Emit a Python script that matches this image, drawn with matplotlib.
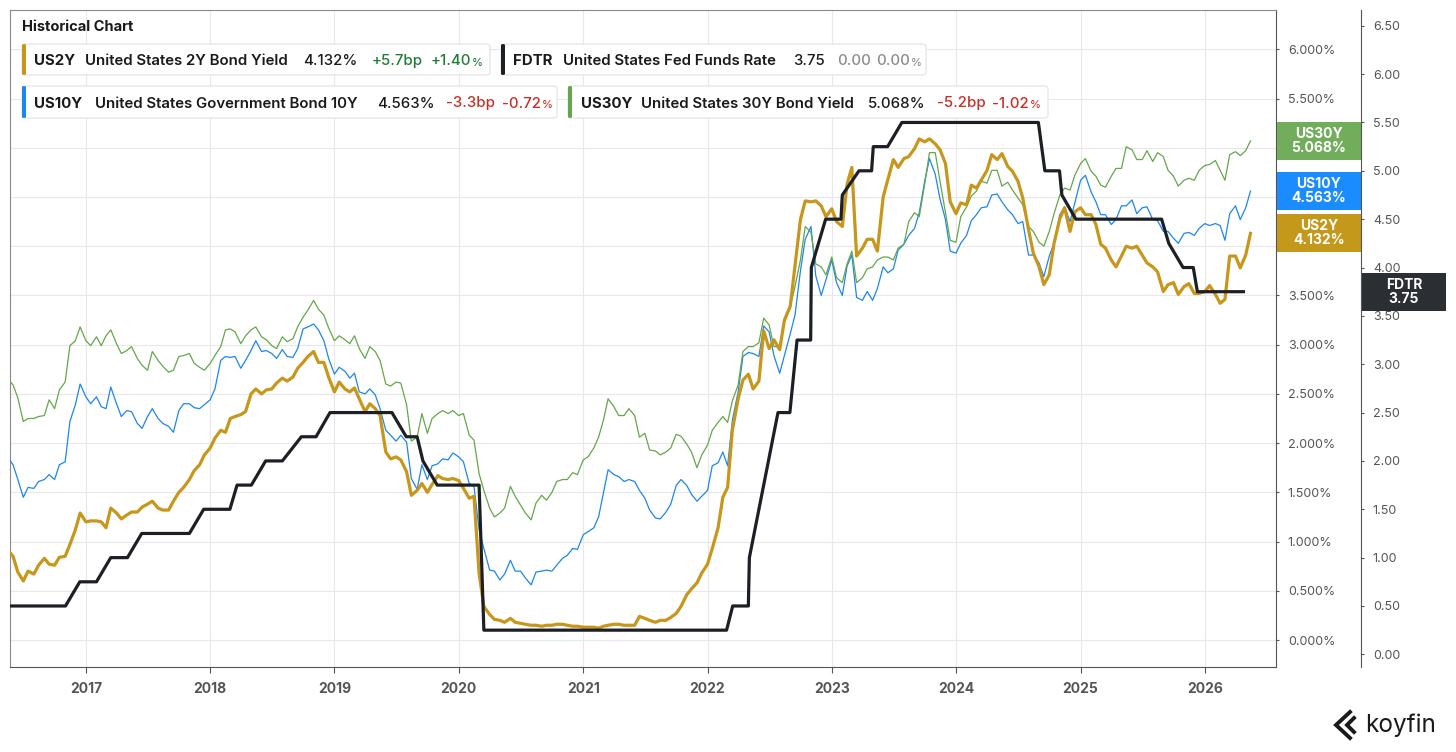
import matplotlib
matplotlib.use('Agg')
import numpy as np
import pandas as pd
import matplotlib.pyplot as plt
import matplotlib.transforms as mtransforms
from matplotlib.patches import FancyBboxPatch, Rectangle
from matplotlib.lines import Line2D
from matplotlib.text import Annotation
from matplotlib.ticker import FuncFormatter

plt.rcParams['font.family'] = ['Inter', 'DejaVu Sans']

W, H = 1456, 752

# semi-monthly observations (1st and 15th), mid-May 2016 .. mid-May 2026
dates = pd.date_range('2016-05-15', '2026-05-15', freq='SMS')

us30y = [
    2.66, 2.59, 2.46, 2.22, 2.25, 2.25, 2.27, 2.28, 2.44, 2.35, 2.54, 2.62, 2.99, 3.04, 3.18,
    3.04, 2.99, 3.08, 2.99, 3.09, 3.15, 3.01, 2.91, 2.94, 2.98, 2.86, 2.79,
    2.74, 2.93, 2.84, 2.78, 2.72, 2.74, 2.88, 2.89, 2.91, 2.81, 2.77, 2.74,
    2.81, 2.89, 2.98, 3.15, 3.16, 3.13, 3.01, 3.09, 3.15, 3.18, 3.08, 3.05,
    2.99, 2.96, 3.08, 3.03, 3.06, 3.18, 3.28, 3.35, 3.45, 3.36, 3.30, 3.17,
    3.04, 3.09, 3.05, 3.01, 3.09, 2.96, 2.86, 2.98, 2.93, 2.84, 2.60, 2.58,
    2.62, 2.61, 2.39, 2.02, 2.06, 2.30, 2.10, 2.25, 2.30, 2.33, 2.30, 2.33,
    2.28, 2.30, 2.08, 2.03, 1.69, 1.52, 1.34, 1.25, 1.29, 1.34, 1.56, 1.46,
    1.37, 1.29, 1.22, 1.39, 1.47, 1.42, 1.50, 1.61, 1.63, 1.63, 1.70, 1.68,
    1.83, 1.86, 1.95, 2.06, 2.23, 2.45, 2.37, 2.28, 2.28, 2.35, 2.28, 2.06,
    2.10, 1.93, 1.92, 1.88, 1.91, 1.95, 2.09, 2.07, 1.99, 1.91, 1.75, 1.88,
    1.98, 2.13, 2.21, 2.27, 2.21, 2.43, 2.59, 2.93, 2.98, 2.98, 3.02, 3.27,
    3.20, 2.98, 2.98, 3.23, 3.38, 3.59, 3.86, 4.20, 4.14, 3.82, 3.79, 3.71,
    3.89, 3.68, 3.63, 3.82, 3.95, 3.63, 3.68, 3.77, 3.79, 3.86, 3.89, 3.89,
    3.86, 3.98, 4.02, 4.25, 4.34, 4.30, 4.63, 4.95, 4.95, 4.66, 4.34, 4.06,
    4.04, 4.30, 4.40, 4.51, 4.56, 4.66, 4.64, 4.77, 4.77, 4.61, 4.65, 4.57,
    4.49, 4.42, 4.20, 4.15, 4.04, 4.00, 4.15, 4.33, 4.52, 4.59, 4.57, 4.72,
    4.84, 4.89, 4.76, 4.71, 4.62, 4.60, 4.71, 4.79, 4.79, 5.01, 4.98, 4.88,
    4.88, 4.97, 4.86, 4.95, 4.91, 4.77, 4.71, 4.61, 4.67, 4.69, 4.67, 4.77,
    4.82, 4.83, 4.87, 4.77, 4.67, 4.93, 4.96, 4.92, 4.97, 5.07,
]

us10y = [
    1.86, 1.78, 1.63, 1.45, 1.55, 1.54, 1.61, 1.63, 1.68, 1.63, 1.78, 1.81, 2.22, 2.39, 2.60,
    2.47, 2.40, 2.47, 2.37, 2.35, 2.57, 2.40, 2.27, 2.33, 2.32, 2.20, 2.15,
    2.27, 2.35, 2.25, 2.20, 2.17, 2.11, 2.33, 2.40, 2.40, 2.36, 2.35, 2.39,
    2.44, 2.55, 2.84, 2.88, 2.87, 2.88, 2.76, 2.84, 2.94, 3.04, 2.93, 2.94,
    2.91, 2.86, 2.95, 2.88, 2.87, 2.96, 3.16, 3.18, 3.21, 3.15, 3.04, 2.86,
    2.70, 2.77, 2.73, 2.66, 2.71, 2.52, 2.50, 2.55, 2.49, 2.35, 2.13, 2.08,
    2.02, 2.08, 2.01, 1.64, 1.53, 1.78, 1.63, 1.77, 1.79, 1.84, 1.83, 1.90,
    1.86, 1.81, 1.59, 1.56, 1.12, 0.93, 0.71, 0.70, 0.61, 0.67, 0.81, 0.70,
    0.70, 0.63, 0.56, 0.69, 0.70, 0.71, 0.70, 0.76, 0.83, 0.86, 0.93, 0.92,
    1.07, 1.10, 1.14, 1.25, 1.49, 1.73, 1.68, 1.66, 1.61, 1.63, 1.61, 1.52,
    1.44, 1.32, 1.24, 1.23, 1.30, 1.38, 1.57, 1.63, 1.57, 1.48, 1.41, 1.46,
    1.52, 1.77, 1.80, 1.91, 1.77, 2.23, 2.52, 2.88, 2.92, 2.91, 2.88, 3.19,
    3.13, 2.89, 2.71, 2.89, 3.11, 3.30, 3.75, 4.07, 4.20, 3.70, 3.50, 3.66,
    3.86, 3.63, 3.50, 3.80, 3.91, 3.48, 3.45, 3.54, 3.45, 3.57, 3.79, 3.73,
    3.77, 3.96, 4.02, 4.11, 4.18, 4.34, 4.66, 4.89, 4.73, 4.48, 4.27, 3.95,
    3.93, 4.03, 4.11, 4.26, 4.32, 4.39, 4.40, 4.52, 4.53, 4.45, 4.37, 4.32,
    4.23, 4.25, 3.91, 3.91, 3.83, 3.69, 3.90, 4.03, 4.32, 4.40, 4.25, 4.44,
    4.67, 4.72, 4.55, 4.45, 4.32, 4.32, 4.22, 4.27, 4.41, 4.41, 4.47, 4.33,
    4.39, 4.40, 4.27, 4.26, 4.15, 4.15, 4.08, 4.03, 4.13, 4.14, 4.11, 4.18,
    4.23, 4.21, 4.23, 4.21, 4.06, 4.33, 4.41, 4.27, 4.39, 4.56,
]

us2y = [
    0.92, 0.85, 0.69, 0.60, 0.70, 0.67, 0.76, 0.83, 0.77, 0.76, 0.84, 0.85, 0.97, 1.12, 1.29,
    1.20, 1.21, 1.21, 1.20, 1.14, 1.34, 1.29, 1.23, 1.27, 1.30, 1.30, 1.35,
    1.38, 1.41, 1.34, 1.32, 1.32, 1.41, 1.50, 1.55, 1.63, 1.72, 1.78, 1.88,
    1.95, 2.05, 2.13, 2.11, 2.25, 2.27, 2.29, 2.32, 2.50, 2.55, 2.50, 2.54,
    2.55, 2.61, 2.66, 2.63, 2.67, 2.76, 2.82, 2.88, 2.93, 2.82, 2.82, 2.67,
    2.52, 2.62, 2.55, 2.52, 2.56, 2.45, 2.32, 2.40, 2.35, 2.28, 1.91, 1.84,
    1.86, 1.83, 1.71, 1.47, 1.52, 1.59, 1.50, 1.58, 1.67, 1.64, 1.63, 1.64,
    1.62, 1.54, 1.44, 1.46, 0.68, 0.34, 0.26, 0.21, 0.20, 0.18, 0.22, 0.18,
    0.17, 0.16, 0.15, 0.15, 0.14, 0.15, 0.15, 0.16, 0.16, 0.15, 0.14, 0.14,
    0.13, 0.13, 0.13, 0.12, 0.14, 0.15, 0.16, 0.16, 0.15, 0.15, 0.15, 0.24,
    0.22, 0.20, 0.18, 0.20, 0.20, 0.23, 0.27, 0.34, 0.46, 0.52, 0.58, 0.68,
    0.77, 0.93, 1.14, 1.45, 1.55, 2.13, 2.45, 2.64, 2.70, 2.55, 2.63, 3.14,
    2.96, 3.05, 2.95, 3.25, 3.39, 3.80, 4.27, 4.46, 4.45, 4.46, 4.41, 4.30,
    4.38, 4.25, 4.20, 4.63, 4.80, 3.90, 3.98, 4.07, 4.07, 3.95, 4.50, 4.68,
    4.88, 4.80, 4.89, 4.91, 4.99, 5.09, 5.06, 5.09, 5.04, 4.98, 4.84, 4.45,
    4.33, 4.44, 4.42, 4.62, 4.59, 4.67, 4.77, 4.93, 4.88, 4.94, 4.81, 4.76,
    4.66, 4.49, 4.17, 3.93, 3.79, 3.61, 3.71, 4.03, 4.28, 4.39, 4.15, 4.35,
    4.39, 4.32, 4.32, 4.22, 4.02, 3.98, 3.86, 3.79, 3.90, 4.00, 3.98, 4.00,
    3.91, 3.83, 3.79, 3.74, 3.54, 3.61, 3.63, 3.51, 3.59, 3.62, 3.52, 3.52,
    3.54, 3.60, 3.51, 3.42, 3.46, 3.90, 3.90, 3.78, 3.91, 4.13,
]

# fed funds upper bound, corners of the plotted line
fdtr_dates = pd.to_datetime([
    '2016-05-15', '2016-11-02', '2016-12-14', '2017-02-01', '2017-03-15',
    '2017-05-03', '2017-06-14', '2017-11-01', '2017-12-13', '2018-02-28',
    '2018-03-21', '2018-05-02', '2018-06-13', '2018-08-01', '2018-09-26',
    '2018-11-08', '2018-12-19', '2019-06-19', '2019-07-31', '2019-09-01',
    '2019-09-18', '2019-10-30', '2020-03-01', '2020-03-15', '2022-02-26',
    '2022-03-16', '2022-05-01', '2022-05-04', '2022-07-27', '2022-08-31',
    '2022-09-21', '2022-10-31', '2022-11-02', '2022-12-14', '2023-01-28',
    '2023-02-01', '2023-03-22', '2023-04-28', '2023-05-03', '2023-06-14',
    '2023-07-26', '2024-08-30', '2024-09-18', '2024-10-31', '2024-11-07',
    '2024-12-18', '2025-08-27', '2025-09-17', '2025-10-29', '2025-11-28',
    '2025-12-10', '2026-04-29',
])
fdtr = [
    0.50, 0.50, 0.75, 0.75, 1.00,
    1.00, 1.25, 1.25, 1.50, 1.50,
    1.75, 1.75, 2.00, 2.00, 2.25,
    2.25, 2.50, 2.50, 2.25, 2.25,
    2.00, 1.75, 1.75, 0.25, 0.25,
    0.50, 0.50, 1.00, 2.50, 2.50,
    3.25, 3.25, 4.00, 4.50, 4.50,
    4.75, 5.00, 5.00, 5.25, 5.25,
    5.50, 5.50, 5.00, 5.00, 4.75,
    4.50, 4.50, 4.25, 4.00, 4.00,
    3.75, 3.75,
]

year_ticks = list(range(2017, 2027))

GOLD = '#c8961a'
BLUE = '#1c86f2'
GREEN = '#64a74a'
BLACK = '#1c1f24'
UP = '#1e7d32'
DOWN = '#cc2e26'
FLAT = '#8c8c8c'
DARK = '#1a1a1a'
GREY_TXT = '#555555'

fig = plt.figure(figsize=(W / 100, H / 100), dpi=100)
fig.patch.set_facecolor('white')


def fx(px):
    return px / W


def fy(py):
    return 1 - py / H


ax = fig.add_axes([fx(10), fy(667), (1276 - 10) / W, (667 - 10) / H])
ax2 = ax.twinx()

ax.plot(dates, us10y, color=BLUE, lw=0.9, zorder=3)
ax.plot(dates, us30y, color=GREEN, lw=0.9, zorder=3)
ax.plot(dates, us2y, color=GOLD, lw=2.3, zorder=4, solid_joinstyle='round')
ax2.plot(fdtr_dates, fdtr, color=BLACK, lw=2.3, solid_capstyle='butt')

ax.set_xlim(pd.Timestamp('2016-05-23'), pd.Timestamp('2026-07-29'))
ax.set_ylim(-0.274, 6.399)
ax2.set_ylim(-0.131, 6.663)

ax.set_xticks([pd.Timestamp(f'{y}-01-01') for y in year_ticks])
ax.set_xticklabels([str(y) for y in year_ticks])
ax.tick_params(axis='x', length=4, color='#555555', pad=7,
               labelsize=10, labelcolor=GREY_TXT)
for t in ax.get_xticklabels():
    t.set_fontweight('bold')

# tick labels that sit under a last-value tag are hidden, as in the app
last_yields = [us30y[-1], us10y[-1], us2y[-1]]


def pct_fmt(v, p):
    if any(abs(v - lv) < 0.2 for lv in last_yields):
        return ''
    return f'{v:.3f}%'


ax.yaxis.tick_right()
ax.set_yticks(np.arange(0, 6.01, 0.5))
ax.yaxis.set_major_formatter(FuncFormatter(pct_fmt))
ax.tick_params(axis='y', length=2.5, color='#555555', pad=6,
               labelsize=9, labelcolor=GREY_TXT)

ax2.set_yticks(np.arange(0, 6.51, 0.5))
ax2.yaxis.set_major_formatter(FuncFormatter(lambda v, p: f'{v:.2f}'))
ax2.tick_params(axis='y', length=2.5, color='#555555', pad=6,
                labelsize=9, labelcolor=GREY_TXT)
ax2.spines['right'].set_position(('axes', (1361 - 10) / 1266))

ax.grid(True, color='#e8e8e8', lw=0.8)
ax.set_axisbelow(True)
for s in ['left', 'top']:
    ax.spines[s].set_color('#8a8a8a')
for s in ['right', 'bottom']:
    ax.spines[s].set_color('#555555')
for s in ['left', 'top', 'bottom']:
    ax2.spines[s].set_visible(False)
ax2.spines['right'].set_color('#555555')


# last-value tags on the right axes
def value_tag(axis, x0, val, h, color, name, label):
    trans = mtransforms.blended_transform_factory(axis.transAxes, axis.transData)
    w = 84 / 1266
    axis.add_patch(Rectangle((x0, val - h / 2), w, h, transform=trans,
                             facecolor=color, edgecolor='none',
                             clip_on=False, zorder=6))
    axis.text(x0 + w / 2, val, f'{name}\n{label}', transform=trans,
              ha='center', va='center', color='white', fontsize=10,
              fontweight='bold', linespacing=1.0, zorder=7, clip_on=False)


value_tag(ax, 1267 / 1266, us30y[-1], 0.386, '#72ad5c', 'US30Y', '5.068%')
value_tag(ax, 1267 / 1266, us10y[-1], 0.386, '#1a8cff', 'US10Y', '4.563%')
value_tag(ax, 1267 / 1266, us2y[-1], 0.386, '#c4991b', 'US2Y', '4.132%')
value_tag(ax2, 1352 / 1266, fdtr[-1], 0.393, '#2b2e33', 'FDTR', '3.75')

# title and legend chips
fig.text(fx(22), fy(27), 'Historical Chart', fontsize=10.5,
         fontweight='bold', color=DARK, va='center')


def chip(x0, x1, y0, y1, color, pieces, pct_color):
    fig.patches.append(FancyBboxPatch(
        (fx(x0), fy(y1)), (x1 - x0) / W, (y1 - y0) / H,
        boxstyle='round,pad=0,rounding_size=0.003', transform=fig.transFigure,
        facecolor='white', edgecolor='#e2e2e2', lw=0.8, zorder=10))
    fig.patches.append(FancyBboxPatch(
        (fx(x0), fy(y1)), 4 / W, (y1 - y0) / H,
        boxstyle='round,pad=0,rounding_size=0.0015', transform=fig.transFigure,
        facecolor=color, edgecolor='none', zorder=11))
    yc = fy((y0 + y1) / 2)
    last = None
    for x, txt, col, weight in pieces:
        last = fig.text(fx(x), yc, txt, color=col, fontsize=10.8,
                        fontweight=weight, va='center_baseline', ha='left',
                        zorder=12)
    # small percent sign tucked right after the last change figure
    fig.add_artist(Annotation(
        '%', xy=(1, 0), xycoords=last, xytext=(0.6, 0.3),
        textcoords='offset points', color=pct_color, fontsize=8,
        fontweight='medium', ha='left', va='bottom', zorder=12))


chip(22, 490, 44, 75, GOLD, [
    (34, 'US2Y', DARK, 'bold'),
    (85, 'United States 2Y Bond Yield', DARK, 'semibold'),
    (303, '4.132%', DARK, 'medium'),
    (372, '+5.7bp', UP, 'medium'),
    (431, '+1.40', UP, 'medium'),
], UP)
chip(501, 926, 44, 75, BLACK, [
    (513, 'FDTR', DARK, 'bold'),
    (563, 'United States Fed Funds Rate', DARK, 'semibold'),
    (793, '3.75', DARK, 'medium'),
    (837, '0.00', FLAT, 'medium'),
    (876, '0.00', FLAT, 'medium'),
], FLAT)
chip(22, 557, 86, 118, BLUE, [
    (34, 'US10Y', DARK, 'bold'),
    (95, 'United States Government Bond 10Y', DARK, 'semibold'),
    (377, '4.563%', DARK, 'medium'),
    (446, '-3.3bp', DOWN, 'medium'),
    (502, '-0.72', DOWN, 'medium'),
], DOWN)
chip(568, 1048, 86, 118, GREEN, [
    (581, 'US30Y', DARK, 'bold'),
    (641, 'United States 30Y Bond Yield', DARK, 'semibold'),
    (868, '5.068%', DARK, 'medium'),
    (937, '-5.2bp', DOWN, 'medium'),
    (992, '-1.02', DOWN, 'medium'),
], DOWN)

# koyfin mark
for pts in ([(1350, 712), (1336, 725), (1350, 738)],
            [(1354, 718), (1347, 725), (1354, 732)]):
    fig.lines.append(Line2D([fx(p[0]) for p in pts], [fy(p[1]) for p in pts],
                            transform=fig.transFigure, color=DARK,
                            lw=2.8, solid_joinstyle='miter'))
fig.text(fx(1365), fy(725), 'koyfin', fontsize=17.5, color=DARK,
         va='center', ha='left')

fig.savefig('out.png', dpi=100, facecolor='white')
